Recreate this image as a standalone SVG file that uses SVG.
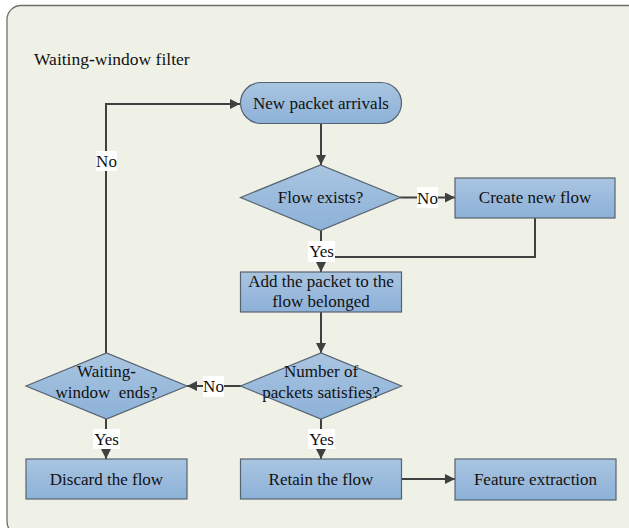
<svg xmlns="http://www.w3.org/2000/svg" width="629" height="528" viewBox="0 0 629 528">
<defs>
<linearGradient id="g" x1="0" y1="0" x2="0" y2="1">
<stop offset="0" stop-color="#a9c5e1"/>
<stop offset="1" stop-color="#8db1d8"/>
</linearGradient>
<marker id="ah" viewBox="0 0 10 10" refX="10" refY="5" markerWidth="5" markerHeight="5" orient="auto" markerUnits="strokeWidth">
<path d="M0,0 L10,5 L0,10 z" fill="#404040"/>
</marker>
</defs>
<style>
.shape{fill:url(#g);stroke:#56636f;stroke-width:1.2}
.t{font-family:"Liberation Serif","Times New Roman",serif;font-size:17px;fill:#111;text-anchor:middle;white-space:pre}
.c{fill:none;stroke:#404040;stroke-width:2}
.a{marker-end:url(#ah)}
.lb{fill:#fff}
</style>
<rect x="7" y="5.5" width="650" height="530" rx="14" fill="#eff1e7" stroke="#6e6e6e" stroke-width="1.3"/>
<text x="34" y="65" class="t" style="text-anchor:start;font-size:17.5px">Waiting<tspan font-weight="bold">-</tspan>window filter</text>

<g id="connectors">
<path class="c a" d="M321,123 L321,165"/>
<path class="c a" d="M400,197.5 L455,197.5"/>
<path class="c a" d="M535,218 L535,257 L321.5,257"/>
<path class="c a" d="M321,230.5 L321,272"/>
<path class="c a" d="M321,312 L321,353"/>
<path class="c a" d="M241,386 L187,386"/>
<path class="c a" d="M106,419 L106,459"/>
<path class="c a" d="M321,419 L321,459"/>
<path class="c a" d="M402,479 L455,479"/>
<path class="c a" d="M106,353 L106,104 L240,104"/>
<rect class="lb" x="417" y="187" width="21" height="21"/>
<text class="t" x="427.5" y="203.5">No</text>
<rect class="lb" x="308" y="241" width="27" height="21"/>
<text class="t" x="321.5" y="257">Yes</text>
<rect class="lb" x="203" y="376" width="21" height="21"/>
<text class="t" x="213.5" y="392">No</text>
<rect class="lb" x="93" y="429" width="27" height="20"/>
<text class="t" x="106.5" y="445">Yes</text>
<rect class="lb" x="308" y="429" width="27" height="20"/>
<text class="t" x="321.5" y="445">Yes</text>
<rect class="lb" x="96" y="151" width="21" height="20"/>
<text class="t" x="106.5" y="167">No</text>
</g>

<g id="n-arrivals">
<rect class="shape" x="240.5" y="82.5" width="161" height="41" rx="20.5"/>
<text class="t" x="321" y="109">New packet arrivals</text>
</g>
<g id="n-exists">
<polygon class="shape" points="240.5,197.5 320.5,165 400.5,197.5 320.5,230.5"/>
<text class="t" x="320.5" y="203">Flow exists?</text>
</g>
<g id="n-create">
<rect class="shape" x="455" y="178" width="160" height="40"/>
<text class="t" x="535" y="203">Create new flow</text>
</g>
<g id="n-add">
<rect class="shape" x="240.5" y="272" width="161" height="40"/>
<text class="t" x="321" y="287">Add the packet to the</text>
<text class="t" x="321" y="307">flow belonged</text>
</g>
<g id="n-number">
<polygon class="shape" points="240.5,386 321,353 401.5,386 321,419"/>
<text class="t" x="321" y="377">Number of</text>
<text class="t" x="321" y="398">packets satisfies?</text>
</g>
<g id="n-waiting">
<polygon class="shape" points="26,386 106.5,353 187,386 106.5,419"/>
<text class="t" x="106.5" y="377">Waiting<tspan font-weight="bold">-</tspan></text>
<text class="t" x="106.5" y="398">window  ends?</text>
</g>
<g id="n-discard">
<rect class="shape" x="26" y="459" width="161" height="40"/>
<text class="t" x="106.5" y="484.5">Discard the flow</text>
</g>
<g id="n-retain">
<rect class="shape" x="240.5" y="459" width="161" height="40"/>
<text class="t" x="321" y="484.5">Retain the flow</text>
</g>
<g id="n-feature">
<rect class="shape" x="455" y="459" width="161" height="41"/>
<text class="t" x="535.5" y="484.5">Feature extraction</text>
</g>
</svg>
